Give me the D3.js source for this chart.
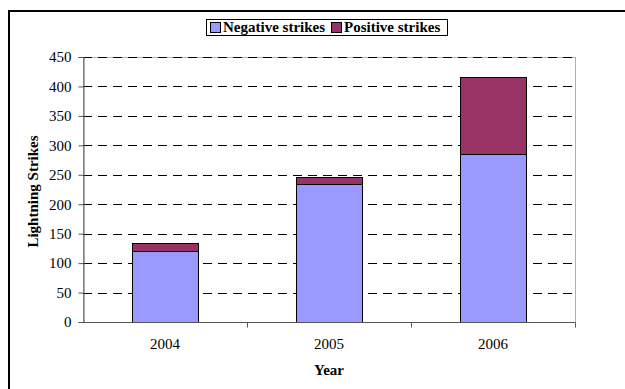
<!DOCTYPE html>
<html>
<head>
<meta charset="utf-8">
<script src="https://cdn.jsdelivr.net/npm/d3@7"></script>
<style>
  body { margin: 0; background: #fff; }
  text { font-family: "Liberation Serif", "Times New Roman", serif; }
</style>
</head>
<body>
<svg id="chart" width="625" height="389"></svg>
<script>
const years = ['2004', '2005', '2006'];
const negative = [120, 235, 285];
const positive = [15, 12, 131];
const yTicks = [0, 50, 100, 150, 200, 250, 300, 350, 400, 450];
const seriesNames = ['Negative strikes', 'Positive strikes'];
const colors = ['#9999ff', '#993366'];

const svg = d3.select('#chart');
const margin = { left: 83, right: 50, top: 57, bottom: 67 };
const width = 625 - margin.left - margin.right;
const height = 389 - margin.top - margin.bottom;

// outer frame, runs off the right and bottom edge
svg.append('rect')
  .attr('x', 9).attr('y', 11)
  .attr('width', 640).attr('height', 400)
  .attr('fill', 'none').attr('stroke', '#000').attr('stroke-width', 2);

const g = svg.append('g').attr('transform', `translate(${margin.left},${margin.top})`);

const x = d3.scaleBand().domain(years).range([0, width]).paddingInner(0).paddingOuter(0);
const y = d3.scaleLinear().domain([0, 450]).range([height, 0]);

// plot area border (grey)
g.append('rect')
  .attr('x', 0.5).attr('y', 0.5).attr('width', width).attr('height', height)
  .attr('fill', 'none').attr('stroke', '#b0b0b0').attr('stroke-width', 1);

// gridlines
g.append('g')
  .selectAll('line')
  .data(yTicks.filter(d => d > 0))
  .join('line')
  .attr('x1', 0).attr('x2', width)
  .attr('y1', d => Math.round(y(d)) + 0.5).attr('y2', d => Math.round(y(d)) + 0.5)
  .attr('stroke', '#000').attr('stroke-dasharray', '9,6');

// stacked bars
const rows = years.map((yr, i) => ({ year: yr, neg: negative[i], pos: positive[i] }));
const stack = d3.stack().keys(['neg', 'pos'])(rows);
const barW = x.bandwidth() * 0.4;

g.append('g')
  .selectAll('g')
  .data(stack)
  .join('g')
  .attr('fill', (d, i) => colors[i])
  .selectAll('rect')
  .data(d => d)
  .join('rect')
  .attr('x', d => Math.round(x(d.data.year) + (x.bandwidth() - barW) / 2) + 0.5)
  .attr('width', Math.round(barW))
  .attr('y', d => Math.round(y(d[1])) + 0.5)
  .attr('height', d => Math.round(y(d[0])) - Math.round(y(d[1])))
  .attr('stroke', '#000').attr('stroke-width', 1);

// axes
const yAxis = g.append('g')
  .attr('transform', 'translate(0.5,0)')
  .call(d3.axisLeft(y).tickValues(yTicks).tickSize(5).tickPadding(7));
yAxis.select('.domain').attr('stroke', '#555');
yAxis.selectAll('.tick line').attr('stroke', '#555');
yAxis.selectAll('text').attr('font-size', 15).attr('fill', '#000');

const xAxis = g.append('g').attr('transform', `translate(0,${height + 0.5})`);
xAxis.append('line').attr('x1', 0).attr('x2', width).attr('stroke', '#555');
xAxis.selectAll('line.tk')
  .data(years)
  .join('line')
  .attr('class', 'tk')
  .attr('x1', d => Math.round(x(d) + x.bandwidth()) + 0.5)
  .attr('x2', d => Math.round(x(d) + x.bandwidth()) + 0.5)
  .attr('y1', 0).attr('y2', 5)
  .attr('stroke', '#555');
xAxis.selectAll('text')
  .data(years)
  .join('text')
  .attr('x', d => x(d) + x.bandwidth() / 2)
  .attr('y', 26)
  .attr('text-anchor', 'middle')
  .attr('font-size', 15)
  .text(d => d);

// axis titles
svg.append('text')
  .attr('x', margin.left + width / 2).attr('y', 375)
  .attr('text-anchor', 'middle').attr('font-size', 15).attr('font-weight', 'bold')
  .text('Year');
svg.append('text')
  .attr('transform', `translate(38,${margin.top + height / 2 + 2}) rotate(-90)`)
  .attr('text-anchor', 'middle').attr('font-size', 15).attr('font-weight', 'bold')
  .text('Lightning Strikes');

// legend
const lg = svg.append('g');
lg.append('rect')
  .attr('x', 206.5).attr('y', 19.5).attr('width', 241).attr('height', 16)
  .attr('fill', '#fff').attr('stroke', '#000');
const items = [{ x: 210, tx: 223 }, { x: 331, tx: 344 }];
seriesNames.forEach((name, i) => {
  lg.append('rect')
    .attr('x', items[i].x + 0.5).attr('y', 22.5).attr('width', 10).attr('height', 10)
    .attr('fill', colors[i]).attr('stroke', '#000');
  lg.append('text')
    .attr('x', items[i].tx).attr('y', 32)
    .attr('font-size', 15).attr('font-weight', 'bold')
    .text(name);
});
</script>
</body>
</html>
